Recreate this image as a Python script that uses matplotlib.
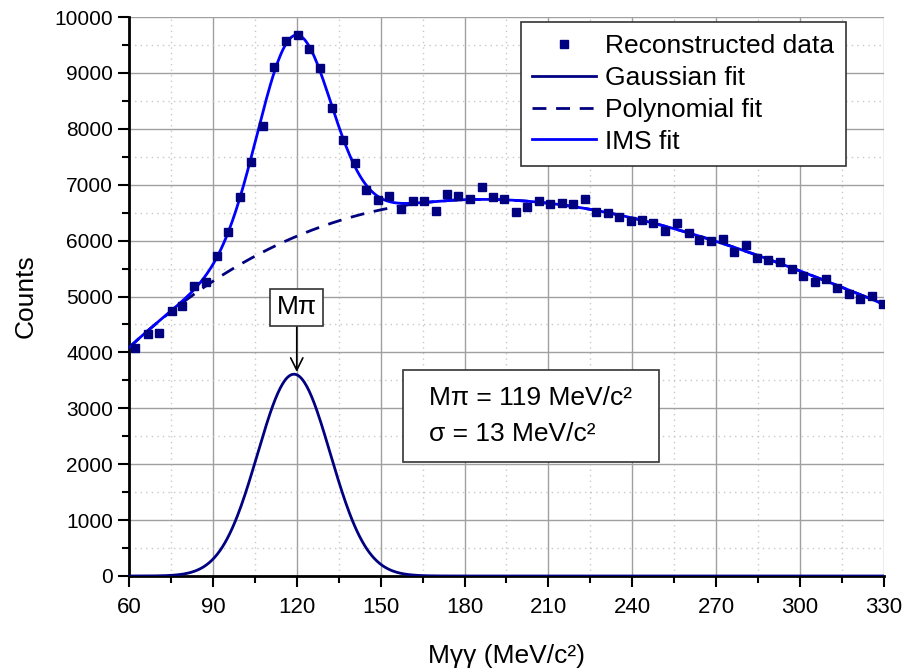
import numpy as np
import matplotlib.pyplot as plt
from matplotlib.ticker import MultipleLocator
from matplotlib.patches import Rectangle

mass = [62.1, 66.9, 70.9, 75.3, 79.1, 83.4, 87.4, 91.6, 95.5, 99.7,
        103.7, 107.9, 112.0, 116.0, 120.3, 124.4, 128.4, 132.6, 136.6, 140.8,
        144.8, 148.9, 153.1, 157.3, 161.4, 165.5, 169.7, 173.6, 177.8, 182.0,
        186.1, 190.1, 194.2, 198.3, 202.5, 206.6, 210.6, 214.7, 218.9, 223.1,
        227.0, 231.2, 235.4, 239.4, 243.5, 247.5, 251.7, 255.9, 260.1, 264.0,
        268.0, 272.3, 276.4, 280.6, 284.5, 288.6, 292.8, 297.0, 300.9, 305.2,
        309.3, 313.3, 317.4, 321.4, 325.6, 329.8]
counts = [4084, 4323, 4342, 4746, 4836, 5188, 5265, 5725, 6160, 6786,
          7406, 8056, 9111, 9571, 9678, 9428, 9082, 8372, 7800, 7394,
          6905, 6726, 6798, 6559, 6708, 6714, 6535, 6834, 6798, 6738,
          6953, 6786, 6738, 6517, 6595, 6714, 6648, 6678, 6648, 6750,
          6517, 6500, 6428, 6351, 6369, 6321, 6177, 6309, 6142, 6011,
          5998, 6023, 5796, 5916, 5695, 5653, 5617, 5497, 5367, 5265,
          5313, 5152, 5050, 4961, 5014, 4860]

# fit parameters
gauss_mean = 119
gauss_sigma = 13
gauss_amp = 3610
# background curve samples
bg_x = [60, 90, 120, 145, 180, 210, 240, 270, 300, 330]
bg_y = [4080, 5295, 6059, 6488, 6744, 6673, 6386, 6011, 5438, 4866]

plt.rcParams['font.family'] = ['Liberation Sans', 'DejaVu Sans']

poly = np.polyfit(bg_x, bg_y, 3)
xf = np.linspace(60, 330, 600)
gauss = gauss_amp * np.exp(-0.5 * ((xf - gauss_mean) / gauss_sigma) ** 2)
background = np.polyval(poly, xf)

fig = plt.figure(figsize=(9.09, 6.70), dpi=100)
ax = fig.add_axes([0.1419, 0.1403, 0.8306, 0.8343])

ax.plot(mass, counts, 's', color='#000080', markersize=5.5, label='Reconstructed data', zorder=4)
ax.plot(xf, gauss, color='#000080', lw=2, label='Gaussian fit', zorder=3)
ax.plot(xf, background, '--', color='#000080', lw=2, dashes=(5, 3.5), label='Polynomial fit', zorder=3)
ax.plot(xf, gauss + background, color='#0000ff', lw=2, label='IMS fit', zorder=3)

ax.set_xlim(60, 330)
ax.set_ylim(0, 10000)
ax.xaxis.set_major_locator(MultipleLocator(30))
ax.xaxis.set_minor_locator(MultipleLocator(15))
ax.yaxis.set_major_locator(MultipleLocator(1000))
ax.yaxis.set_minor_locator(MultipleLocator(500))

ax.grid(True, which='major', color='#a0a0a0', lw=1, ls='-')
ax.grid(True, which='minor', color='#c8c8c8', lw=1, ls=(0, (1, 3)))
ax.set_axisbelow(True)

for s in ['top', 'right']:
    ax.spines[s].set_visible(False)
for s in ['left', 'bottom']:
    ax.spines[s].set_linewidth(2)

ax.tick_params(which='major', direction='out', length=8, width=1.5)
ax.tick_params(which='minor', direction='out', length=5, width=1.5)
ax.tick_params(axis='y', labelsize=15)
ax.tick_params(axis='x', labelsize=16, pad=7)

ax.set_ylabel('Counts', fontsize=19, labelpad=12)
ax.set_xlabel('Mγγ (MeV/c²)', fontsize=19, labelpad=19)

leg = ax.legend(loc='upper right', bbox_to_anchor=(0.9497, 0.991), fontsize=19,
                frameon=True, fancybox=False, edgecolor='#333333',
                handlelength=2.4, handletextpad=0.35, borderpad=0.45,
                labelspacing=0.3, borderaxespad=0, markerscale=1.0)
leg.get_frame().set_linewidth(1.2)
leg.get_frame().set_alpha(1)

# pion mass marker
ax.annotate('Mπ', xy=(120, gauss_amp + 40), xytext=(120, 4810),
            ha='center', va='center', fontsize=19,
            bbox=dict(boxstyle='square,pad=0.25', fc='white', ec='#333333', lw=1.2),
            arrowprops=dict(arrowstyle='->', color='black', lw=1.2,
                            mutation_scale=22, shrinkA=0, shrinkB=0))

# fit result box
ax.add_patch(Rectangle((0.3629, 0.204), 0.339, 0.1646, transform=ax.transAxes,
                       fc='white', ec='#333333', lw=1.2, zorder=5))
ax.text(0.397, 0.286, 'Mπ = 119 MeV/c²\nσ = 13 MeV/c²', transform=ax.transAxes,
        fontsize=19, ha='left', va='center', linespacing=1.65, zorder=6)

fig.savefig('out.png', dpi=100)
